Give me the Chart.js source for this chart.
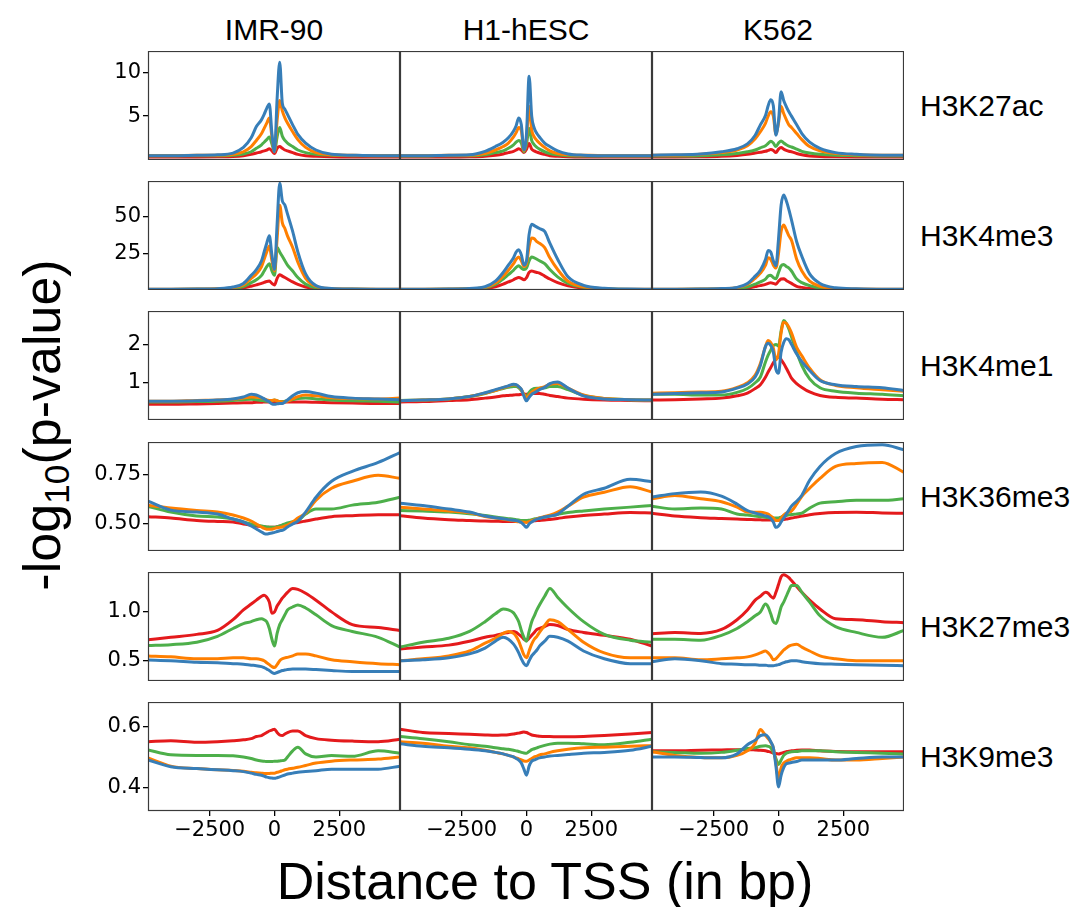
<!DOCTYPE html>
<html>
<head>
<meta charset="utf-8">
<script src="https://cdn.jsdelivr.net/npm/chart.js@4/dist/chart.umd.min.js"></script>
<style>
  body { margin: 0; background: #fff; width: 1091px; height: 907px; position: relative; overflow: hidden;
         font-family: 'Liberation Sans', Arial, sans-serif; }
  canvas { position: absolute; }
  .txt { position: absolute; white-space: nowrap; color: #000; line-height: 1; }
</style>
</head>
<body>
<script>
// x positions (bp from TSS) shared by every profile
const xs = [-4880,-4000,-3000,-2200,-1600,-1200,-900,-700,-500,-400,-300,-200,-100,0,100,200,300,400,500,700,900,1200,1600,2200,3000,4000,4840];

const cellLines = ['IMR-90', 'H1-hESC', 'K562'];
const marks = ['H3K27ac', 'H3K4me3', 'H3K4me1', 'H3K36me3', 'H3K27me3', 'H3K9me3'];
// series order: red, green, orange, blue
const seriesColors = ['#e41a1c', '#4daf4a', '#ff7f00', '#377eb8'];

const xTicks = [-2500, 0, 2500];
const xTickText = ['\u22122500', '0', '2500'];
const yLow  = [-0.05, 0, 0.03, 0.364, 0.293, 0.323];
const yHigh = [12.5, 74.5, 2.87, 0.913, 1.408, 0.68];
const yTicks = [[5, 10], [25, 50], [1, 2], [0.5, 0.75], [0.5, 1.0], [0.4, 0.6]];
const yTickText = [['5', '10'], ['25', '50'], ['1', '2'], ['0.50', '0.75'], ['0.5', '1.0'], ['0.4', '0.6']];

// ---- H3K27ac ----
const k27ac_imr = [
  [0.3,0.3,0.3,0.32,0.36,0.45,0.6,0.75,0.9,1.0,1.1,1.25,1.0,0.7,1.3,1.5,1.3,1.1,1.0,0.8,0.6,0.45,0.38,0.32,0.3,0.3,0.3],
  [0.45,0.45,0.45,0.45,0.5,0.65,0.9,1.3,1.7,2.0,2.3,2.6,1.8,0.9,2.6,3.7,2.7,2.2,1.9,1.5,1.1,0.8,0.6,0.5,0.45,0.45,0.45],
  [0.45,0.45,0.5,0.5,0.6,0.9,1.5,2.2,3.0,3.6,4.2,4.8,2.6,0.9,4.5,6.8,5.6,4.8,4.2,3.2,2.3,1.4,0.8,0.55,0.5,0.45,0.45],
  [0.45,0.45,0.5,0.55,0.75,1.4,2.5,3.8,4.6,5.2,5.9,6.4,3.0,0.9,7.0,11.2,6.5,5.8,5.2,4.0,2.9,1.9,1.1,0.6,0.5,0.45,0.45]
];
const k27ac_h1 = [
  [0.3,0.3,0.3,0.32,0.38,0.5,0.65,0.8,0.95,1.1,1.25,1.1,0.8,1.2,1.85,1.2,1.0,0.85,0.75,0.6,0.45,0.38,0.32,0.3,0.3,0.3,0.3],
  [0.4,0.4,0.45,0.45,0.55,0.8,1.0,1.3,1.7,2.0,2.2,1.9,0.9,1.8,3.6,2.2,1.7,1.4,1.2,0.9,0.7,0.55,0.45,0.4,0.4,0.4,0.4],
  [0.45,0.45,0.5,0.5,0.7,1.1,1.5,1.9,2.6,3.1,3.7,3.3,1.0,2.5,6.1,3.4,2.6,2.2,1.9,1.4,1.0,0.7,0.55,0.5,0.45,0.45,0.45],
  [0.45,0.45,0.5,0.55,0.95,1.5,2.0,2.5,3.3,3.9,4.8,4.0,1.1,3.0,9.6,5.0,3.6,3.0,2.6,1.9,1.5,1.0,0.65,0.5,0.45,0.45,0.45]
];
const k27ac_k562 = [
  [0.3,0.3,0.32,0.38,0.48,0.6,0.75,0.85,0.95,1.05,1.15,1.05,0.8,1.2,1.4,1.2,1.05,0.95,0.9,0.7,0.55,0.42,0.35,0.32,0.3,0.3,0.3],
  [0.4,0.4,0.45,0.55,0.7,0.9,1.1,1.35,1.6,1.85,2.1,1.9,1.5,1.9,2.15,1.9,1.7,1.55,1.45,1.2,0.95,0.75,0.6,0.5,0.45,0.4,0.4],
  [0.5,0.5,0.6,0.8,1.1,1.6,2.4,3.2,4.2,5.0,5.5,5.0,2.9,4.2,6.1,5.3,4.6,4.0,3.7,3.0,2.3,1.5,1.0,0.7,0.55,0.5,0.5],
  [0.5,0.55,0.65,0.9,1.25,1.8,2.8,4.0,5.1,6.2,6.9,6.2,2.8,4.5,7.8,6.8,6.1,5.5,5.0,4.0,3.0,2.0,1.3,0.8,0.6,0.5,0.5]
];

// ---- H3K4me3 ----
const k4me3_imr = [
  [0.3,0.3,0.4,0.5,0.8,1.5,2.6,3.5,4.5,5.2,5.8,6.1,4.5,3.4,8,10.5,9.5,8.5,7.5,5.5,3.8,2.0,0.9,0.5,0.4,0.3,0.3],
  [0.4,0.4,0.5,0.7,1.2,2.4,5,7,10,13,16,18,13,10,29,26,23,20,17,13,8.5,4.0,1.5,0.7,0.5,0.4,0.4],
  [0.5,0.5,0.6,0.8,1.6,3.5,8,11,16,21,26,30,20,13,35,58,46,42,37,29,19,8,2.5,0.9,0.6,0.5,0.5],
  [0.5,0.5,0.6,0.9,2.0,4.5,10,14,20,26,32,37,24,14,45,73,61,58,52,40,26,11,3.0,1.0,0.6,0.5,0.5]
];
const k4me3_h1 = [
  [0.3,0.3,0.4,0.6,1.0,2.2,4.0,5.5,7.0,8.0,8.5,8.0,7.0,8.5,12,13,12.5,12,11.5,9.5,7.5,5,2.8,1.2,0.5,0.3,0.3],
  [0.4,0.4,0.5,0.8,1.5,3.8,7.5,10.5,13.5,15.5,16.5,15,14,15,20,22.5,22,21,20,18,14,9,4.5,1.8,0.8,0.4,0.4],
  [0.5,0.5,0.6,0.9,1.8,4.8,9.5,13.5,18,21,22.5,20,16,18,30,35.5,35,33,32,29,22,14,6.0,2.2,0.9,0.5,0.5],
  [0.5,0.5,0.6,1.0,2.2,6.0,12,17,22,26,27.5,24,17,20,38,45,44,43,42,40,32,21,9.0,3.2,1.2,0.6,0.5]
];
const k4me3_k562 = [
  [0.3,0.3,0.4,0.5,0.7,1.3,2.3,3.0,3.8,4.5,5.0,4.5,4.0,6,7.5,7.7,6.5,5.5,4.5,2.5,1.8,1.0,0.6,0.4,0.3,0.3,0.3],
  [0.4,0.4,0.5,0.7,1.0,2.0,4.0,5.5,7.5,9.5,10,8.5,7.7,12,16.5,17.5,16,15,13,7.5,5,3,1.4,0.6,0.4,0.4,0.4],
  [0.5,0.5,0.6,0.9,1.6,3.8,8,11.5,17,22,21,17,15,25,40,44.5,41,37,34,21,13,6,2.5,0.9,0.6,0.5,0.5],
  [0.5,0.5,0.6,1.0,1.8,4.5,9.5,13.5,21,27,26,20,16.5,35,58,65,61,55,48,33,23,11,4.5,1.5,0.8,0.5,0.5]
];

// ---- H3K4me1 ----
const k4me1_imr = [
  [0.44,0.44,0.45,0.46,0.47,0.48,0.48,0.49,0.49,0.5,0.5,0.5,0.5,0.5,0.49,0.5,0.5,0.5,0.5,0.5,0.5,0.5,0.49,0.48,0.47,0.46,0.46],
  [0.5,0.5,0.51,0.52,0.54,0.56,0.57,0.56,0.54,0.53,0.52,0.52,0.53,0.55,0.53,0.51,0.51,0.52,0.53,0.56,0.59,0.6,0.58,0.55,0.53,0.52,0.5],
  [0.52,0.52,0.54,0.55,0.57,0.6,0.63,0.62,0.6,0.58,0.55,0.54,0.54,0.55,0.53,0.51,0.5,0.5,0.52,0.58,0.64,0.68,0.66,0.61,0.59,0.58,0.6],
  [0.52,0.52,0.53,0.55,0.58,0.63,0.7,0.68,0.62,0.58,0.54,0.5,0.45,0.44,0.45,0.46,0.46,0.5,0.55,0.66,0.74,0.77,0.73,0.64,0.6,0.58,0.56]
];
const k4me1_h1 = [
  [0.5,0.51,0.54,0.56,0.6,0.63,0.66,0.67,0.68,0.69,0.69,0.7,0.7,0.7,0.71,0.72,0.72,0.72,0.72,0.7,0.67,0.64,0.6,0.57,0.55,0.54,0.53],
  [0.54,0.55,0.58,0.64,0.72,0.8,0.85,0.88,0.9,0.9,0.87,0.8,0.7,0.65,0.75,0.82,0.85,0.86,0.86,0.87,0.9,0.9,0.82,0.67,0.59,0.56,0.55],
  [0.53,0.55,0.58,0.64,0.73,0.8,0.87,0.91,0.95,0.94,0.9,0.82,0.7,0.6,0.68,0.75,0.8,0.84,0.86,0.9,0.96,0.98,0.86,0.68,0.59,0.56,0.55],
  [0.53,0.55,0.58,0.64,0.74,0.82,0.88,0.92,0.96,0.95,0.9,0.83,0.65,0.53,0.62,0.7,0.74,0.78,0.82,0.88,0.98,1.02,0.86,0.66,0.58,0.56,0.55]
];
const k4me1_k562 = [
  [0.55,0.56,0.58,0.6,0.66,0.73,0.85,0.95,1.15,1.28,1.4,1.52,1.62,1.68,1.6,1.5,1.38,1.25,1.12,0.98,0.88,0.76,0.67,0.62,0.6,0.57,0.56],
  [0.7,0.7,0.68,0.68,0.75,0.85,1.0,1.15,1.55,1.72,1.85,1.97,2.0,1.95,2.35,2.62,2.55,2.4,2.2,1.8,1.45,1.1,0.87,0.78,0.73,0.7,0.66],
  [0.73,0.74,0.76,0.78,0.88,1.0,1.2,1.5,1.95,2.1,2.05,1.9,1.6,1.75,2.3,2.58,2.55,2.45,2.3,1.92,1.7,1.38,1.08,0.93,0.87,0.82,0.78],
  [0.7,0.72,0.74,0.76,0.86,0.97,1.15,1.45,1.95,2.03,1.97,1.8,1.35,1.25,1.8,2.05,2.15,2.12,2.0,1.75,1.55,1.32,1.06,0.95,0.9,0.87,0.8]
];

// ---- H3K36me3 ----
const k36me3_imr = [
  [0.537,0.53,0.518,0.513,0.51,0.5,0.494,0.49,0.487,0.485,0.484,0.483,0.483,0.483,0.486,0.49,0.493,0.497,0.5,0.505,0.508,0.515,0.525,0.537,0.542,0.547,0.547],
  [0.589,0.56,0.54,0.535,0.525,0.51,0.5,0.495,0.49,0.487,0.485,0.484,0.483,0.483,0.486,0.49,0.495,0.5,0.505,0.512,0.517,0.55,0.576,0.576,0.595,0.61,0.635],
  [0.594,0.58,0.568,0.56,0.545,0.53,0.515,0.5,0.485,0.478,0.474,0.473,0.474,0.478,0.481,0.483,0.485,0.49,0.495,0.51,0.53,0.555,0.62,0.68,0.715,0.745,0.73],
  [0.615,0.57,0.56,0.55,0.525,0.51,0.49,0.475,0.46,0.452,0.449,0.452,0.455,0.458,0.462,0.466,0.468,0.475,0.485,0.5,0.515,0.56,0.635,0.715,0.765,0.81,0.86]
];
const k36me3_h1 = [
  [0.542,0.53,0.522,0.518,0.515,0.514,0.513,0.513,0.513,0.513,0.513,0.513,0.513,0.513,0.514,0.515,0.516,0.517,0.518,0.52,0.523,0.528,0.535,0.543,0.55,0.558,0.556],
  [0.568,0.565,0.56,0.552,0.543,0.535,0.53,0.527,0.524,0.522,0.52,0.518,0.517,0.517,0.519,0.522,0.525,0.528,0.53,0.535,0.54,0.548,0.558,0.566,0.575,0.585,0.593],
  [0.585,0.575,0.566,0.556,0.538,0.53,0.524,0.52,0.516,0.513,0.511,0.51,0.509,0.508,0.512,0.517,0.521,0.526,0.53,0.538,0.545,0.56,0.59,0.635,0.66,0.688,0.661],
  [0.605,0.593,0.575,0.56,0.54,0.532,0.526,0.522,0.519,0.517,0.513,0.507,0.495,0.483,0.5,0.51,0.518,0.525,0.528,0.535,0.54,0.55,0.59,0.65,0.68,0.725,0.713]
];
const k36me3_k562 = [
  [0.554,0.54,0.532,0.528,0.525,0.523,0.522,0.521,0.52,0.52,0.52,0.52,0.52,0.52,0.521,0.523,0.525,0.527,0.53,0.535,0.54,0.547,0.553,0.558,0.559,0.556,0.554],
  [0.589,0.576,0.58,0.575,0.55,0.545,0.54,0.537,0.534,0.532,0.531,0.53,0.53,0.53,0.535,0.54,0.543,0.546,0.548,0.551,0.555,0.58,0.605,0.612,0.619,0.619,0.627],
  [0.627,0.644,0.627,0.612,0.585,0.56,0.559,0.559,0.555,0.55,0.54,0.53,0.517,0.517,0.53,0.545,0.555,0.56,0.565,0.6,0.64,0.68,0.73,0.79,0.805,0.81,0.76],
  [0.636,0.653,0.661,0.64,0.6,0.568,0.555,0.548,0.54,0.537,0.528,0.51,0.483,0.49,0.51,0.53,0.55,0.57,0.59,0.615,0.645,0.72,0.79,0.855,0.89,0.899,0.874]
];

// ---- H3K27me3 ----
const k27me3_imr = [
  [0.714,0.74,0.77,0.81,0.92,1.02,1.08,1.12,1.16,1.17,1.15,1.1,0.985,1.0,1.06,1.1,1.14,1.17,1.2,1.24,1.23,1.19,1.12,1.0,0.87,0.84,0.81],
  [0.655,0.665,0.69,0.75,0.83,0.88,0.9,0.92,0.93,0.92,0.9,0.83,0.72,0.65,0.78,0.87,0.92,0.97,1.02,1.05,1.07,1.04,0.97,0.86,0.8,0.74,0.64],
  [0.55,0.54,0.52,0.52,0.53,0.53,0.52,0.52,0.51,0.5,0.48,0.46,0.44,0.43,0.46,0.5,0.52,0.53,0.535,0.55,0.57,0.57,0.55,0.51,0.49,0.47,0.46],
  [0.507,0.5,0.485,0.48,0.47,0.465,0.455,0.45,0.44,0.43,0.415,0.4,0.38,0.37,0.38,0.39,0.4,0.405,0.41,0.415,0.415,0.415,0.41,0.4,0.39,0.39,0.39]
];
const k27me3_h1 = [
  [0.62,0.64,0.66,0.7,0.74,0.76,0.78,0.79,0.8,0.79,0.77,0.75,0.72,0.71,0.73,0.76,0.79,0.82,0.83,0.85,0.87,0.86,0.82,0.79,0.76,0.72,0.65],
  [0.64,0.69,0.73,0.8,0.9,0.98,1.03,1.02,0.99,0.95,0.9,0.81,0.74,0.7,0.8,0.9,0.96,1.02,1.07,1.16,1.24,1.15,1.04,0.9,0.77,0.71,0.69],
  [0.5,0.52,0.55,0.6,0.68,0.73,0.78,0.8,0.78,0.75,0.7,0.63,0.56,0.53,0.6,0.67,0.72,0.75,0.79,0.86,0.92,0.9,0.82,0.69,0.58,0.53,0.53],
  [0.5,0.51,0.53,0.57,0.63,0.7,0.74,0.72,0.67,0.63,0.58,0.52,0.47,0.45,0.5,0.55,0.58,0.61,0.65,0.7,0.75,0.74,0.7,0.6,0.52,0.47,0.47]
];
const k27me3_k562 = [
  [0.776,0.79,0.78,0.82,0.92,1.02,1.12,1.16,1.2,1.19,1.16,1.14,1.2,1.28,1.36,1.38,1.37,1.35,1.32,1.26,1.2,1.12,1.03,0.93,0.92,0.9,0.89],
  [0.72,0.72,0.71,0.76,0.83,0.9,0.96,1.0,1.08,1.05,0.98,0.9,0.88,0.95,1.05,1.1,1.16,1.22,1.27,1.27,1.2,1.1,0.96,0.85,0.79,0.74,0.81],
  [0.53,0.53,0.51,0.52,0.53,0.54,0.56,0.58,0.6,0.58,0.55,0.51,0.52,0.55,0.58,0.61,0.63,0.65,0.66,0.67,0.64,0.6,0.55,0.52,0.5,0.5,0.5],
  [0.49,0.52,0.5,0.47,0.465,0.46,0.46,0.455,0.455,0.45,0.45,0.45,0.455,0.46,0.47,0.48,0.49,0.495,0.5,0.5,0.49,0.48,0.47,0.465,0.46,0.455,0.45]
];

// ---- H3K9me3 ----
const k9me3_imr = [
  [0.55,0.553,0.548,0.55,0.553,0.556,0.56,0.567,0.57,0.575,0.58,0.585,0.588,0.591,0.58,0.572,0.57,0.575,0.58,0.585,0.585,0.57,0.56,0.555,0.552,0.55,0.558],
  [0.523,0.507,0.505,0.505,0.504,0.5,0.495,0.49,0.487,0.486,0.485,0.485,0.485,0.486,0.486,0.487,0.488,0.49,0.5,0.52,0.532,0.51,0.5,0.505,0.502,0.52,0.512],
  [0.497,0.47,0.462,0.458,0.456,0.453,0.45,0.448,0.447,0.446,0.446,0.446,0.447,0.447,0.45,0.452,0.455,0.458,0.46,0.463,0.466,0.472,0.48,0.486,0.49,0.493,0.5],
  [0.49,0.468,0.462,0.458,0.455,0.452,0.447,0.443,0.44,0.437,0.434,0.432,0.431,0.43,0.432,0.435,0.438,0.441,0.444,0.447,0.45,0.452,0.455,0.46,0.46,0.46,0.47]
];
const k9me3_h1 = [
  [0.591,0.58,0.577,0.574,0.572,0.571,0.572,0.573,0.575,0.577,0.578,0.58,0.582,0.58,0.576,0.572,0.57,0.569,0.568,0.567,0.567,0.566,0.566,0.567,0.57,0.575,0.58],
  [0.567,0.56,0.55,0.54,0.535,0.53,0.527,0.525,0.522,0.52,0.518,0.515,0.513,0.512,0.518,0.524,0.527,0.53,0.533,0.538,0.542,0.545,0.545,0.543,0.54,0.548,0.558],
  [0.55,0.545,0.535,0.53,0.522,0.515,0.51,0.505,0.5,0.497,0.494,0.49,0.487,0.486,0.49,0.495,0.5,0.503,0.507,0.51,0.515,0.52,0.525,0.53,0.532,0.535,0.537],
  [0.543,0.535,0.53,0.525,0.52,0.515,0.51,0.505,0.5,0.495,0.49,0.48,0.46,0.44,0.47,0.486,0.49,0.494,0.497,0.5,0.503,0.505,0.508,0.512,0.515,0.522,0.535]
];
const k9me3_k562 = [
  [0.52,0.52,0.522,0.523,0.524,0.524,0.523,0.522,0.52,0.518,0.516,0.513,0.511,0.51,0.512,0.515,0.517,0.519,0.52,0.522,0.523,0.523,0.52,0.518,0.517,0.517,0.517],
  [0.517,0.515,0.512,0.515,0.522,0.528,0.53,0.535,0.537,0.535,0.53,0.515,0.495,0.475,0.49,0.505,0.512,0.515,0.517,0.518,0.52,0.52,0.52,0.517,0.515,0.512,0.51],
  [0.517,0.505,0.498,0.497,0.505,0.52,0.545,0.59,0.57,0.56,0.548,0.53,0.48,0.43,0.465,0.48,0.486,0.49,0.493,0.497,0.497,0.497,0.495,0.49,0.49,0.495,0.5],
  [0.5,0.5,0.498,0.497,0.51,0.54,0.555,0.57,0.573,0.565,0.55,0.53,0.47,0.402,0.44,0.465,0.478,0.48,0.482,0.485,0.49,0.49,0.49,0.49,0.495,0.5,0.5]
];

const panels = [
  [k27ac_imr, k27ac_h1, k27ac_k562],
  [k4me3_imr, k4me3_h1, k4me3_k562],
  [k4me1_imr, k4me1_h1, k4me1_k562],
  [k36me3_imr, k36me3_h1, k36me3_k562],
  [k27me3_imr, k27me3_h1, k27me3_k562],
  [k9me3_imr, k9me3_h1, k9me3_k562]
];

// layout
const colX = [148, 400, 652];
const rowY = [51, 181, 311, 442, 572, 702];
const panelW = 252, panelH = 109;
const yAxisW = 60, xAxisH = 36;
const tickFont = { family: 'DejaVu Sans', size: 21 };

// box around every panel
const framePlugin = {
  id: 'frame',
  afterDraw(chart) {
    const a = chart.chartArea, ctx = chart.ctx;
    ctx.save();
    ctx.strokeStyle = '#3a3a3a';
    ctx.lineWidth = 1.2;
    ctx.strokeRect(a.left + 0.5, a.top + 0.5, a.right - a.left - 1, a.bottom - a.top - 1);
    ctx.restore();
  }
};

function addText(html, x, y, size, extra) {
  const d = document.createElement('div');
  d.className = 'txt';
  d.innerHTML = html;
  d.style.left = x + 'px';
  d.style.top = y + 'px';
  d.style.fontSize = size + 'px';
  d.style.transform = extra || 'translate(-50%, -50%)';
  document.body.appendChild(d);
}

panels.forEach((rowPanels, r) => {
  rowPanels.forEach((series, c) => {
    const isLeft = c === 0, isBottom = r === panels.length - 1;
    const w = panelW + (isLeft ? yAxisW : 0);
    const h = panelH + (isBottom ? xAxisH : 0);
    const cv = document.createElement('canvas');
    cv.width = w; cv.height = h;
    cv.style.width = w + 'px'; cv.style.height = h + 'px';
    cv.style.left = (colX[c] - (isLeft ? yAxisW : 0)) + 'px';
    cv.style.top = rowY[r] + 'px';
    document.body.appendChild(cv);

    new Chart(cv, {
      type: 'line',
      data: {
        datasets: series.map((vals, k) => ({
          data: xs.map((x, i) => ({ x: x, y: vals[i] })),
          borderColor: seriesColors[k],
          borderWidth: 3,
          pointRadius: 0,
          fill: false,
          cubicInterpolationMode: 'monotone',
          order: 3 - k
        }))
      },
      options: {
        responsive: false,
        animation: false,
        devicePixelRatio: 1,
        events: [],
        layout: { padding: 0 },
        plugins: { legend: { display: false }, tooltip: { enabled: false } },
        scales: {
          x: {
            type: 'linear', min: -4880, max: 4840, display: isBottom,
            afterBuildTicks: s => { s.ticks = xTicks.map(v => ({ value: v })); },
            afterFit: s => { s.height = isBottom ? xAxisH : 0; s.paddingLeft = 0; s.paddingRight = 0; },
            ticks: { callback: (v, i) => xTickText[i], font: tickFont, color: '#000', padding: 2,
                     maxRotation: 0, autoSkip: false },
            grid: { drawOnChartArea: false, drawTicks: true, tickLength: 5, color: '#000', lineWidth: 1.3 },
            border: { display: false }
          },
          y: {
            type: 'linear', min: yLow[r], max: yHigh[r], display: isLeft,
            afterBuildTicks: s => { s.ticks = yTicks[r].map(v => ({ value: v })); },
            afterFit: s => { s.width = isLeft ? yAxisW : 0; s.paddingTop = 0; s.paddingBottom = 0; },
            ticks: { callback: (v, i) => yTickText[r][i], font: tickFont, color: '#000', padding: 2 },
            grid: { drawOnChartArea: false, drawTicks: true, tickLength: 5, color: '#000', lineWidth: 1.3 },
            border: { display: false }
          }
        }
      },
      plugins: [framePlugin]
    });
  });
});

// column titles and row labels
cellLines.forEach((name, c) => addText(name, colX[c] + panelW / 2, 30, 30));
marks.forEach((name, r) => addText(name, 920, rowY[r] + panelH / 2, 30, 'translate(0, -50%)'));

// axis labels
addText('Distance to TSS (in bp)', 545, 881, 52);
addText('-log<sub style="font-size:0.68em;vertical-align:-0.25em">10</sub>(p-value)', 45, 425, 52,
        'translate(-50%, -50%) rotate(-90deg)');
</script>
</body>
</html>
